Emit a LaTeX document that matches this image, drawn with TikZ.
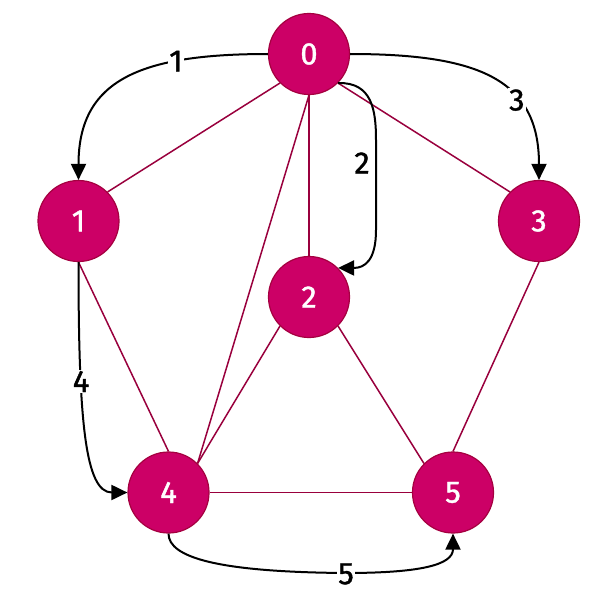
\documentclass[tikz,border=0pt]{standalone}
\usepackage{fontspec}
\setmainfont{Fira Sans}
\newfontfamily\digitfont{Fira Sans}[FakeBold=1.2]
\usetikzlibrary{arrows.meta}
\definecolor{nodefill}{HTML}{CC0066}
\definecolor{nodeline}{HTML}{A50040}
\definecolor{edgecol}{HTML}{99003D}
\begin{document}
\begin{tikzpicture}[x=1pt,y=-1pt,
  vertex/.style={circle,draw=nodeline,line width=1.2pt,fill=nodefill,minimum size=81pt,inner sep=0pt,text=white,font=\digitfont\fontsize{31}{36}\selectfont},
  link/.style={draw=edgecol,line width=1.5pt},
  walk/.style={draw=black,line width=2pt,-{Triangle[length=16pt,width=15pt]}},
  wlabel/.style={fill=white,inner sep=1pt,font=\digitfont\fontsize{31}{36}\selectfont}]
\useasboundingbox (0,0) rectangle (600,600);
\node[vertex] (n0) at (309,54) {0};
\node[vertex] (n1) at (78.5,221) {1};
\node[vertex] (n3) at (539,221) {3};
\node[vertex] (n2) at (309,297) {2};
\node[vertex] (n4) at (168.5,492.5) {4};
\node[vertex] (n5) at (453,492.5) {5};
% undirected edges
\path[link] (n0.-135) -- (n1.45);
\path[link] (n0.-45) -- (n3.135);
\path[link] (n0.south) -- (n2.north);
\path[link] (n0.south) -- (n4.45);
\path[link] (n1.south) -- (n4.north);
\path[link] (n2.-135) -- (n4.45);
\path[link] (n2.-45) -- (n5.135);
\path[link] (n3.south) -- (n5.north);
\path[link] (n4.east) -- (n5.west);
% traversal arrows
\path[walk] (n0.west) .. controls (140,54) and (78.5,80) .. node[wlabel,pos=0.28] (l1) {1} (n1.north);
\path[walk] (n0.east) .. controls (480,54) and (539,80) .. node[wlabel,pos=0.65] (l3) {3} (n3.north);
\path[walk] (n0.-45) .. controls (372,82) and (376,110) .. (376,140) -- (376,230) .. controls (376,260) and (365,268) .. (n2.45);
\node[wlabel] (l2) at (362,163) {2};
\path[walk] (n1.south) .. controls (78.5,420) and (85,492.5) .. node[wlabel,pos=0.3] (l4) {4} (n4.west);
\path[walk] (n4.south) .. controls (168.5,558) and (220,572) .. (345,573) .. controls (420,573) and (453,565) .. (n5.south);
\node[wlabel] (l5) at (346,574) {5};
\end{tikzpicture}
\end{document}
